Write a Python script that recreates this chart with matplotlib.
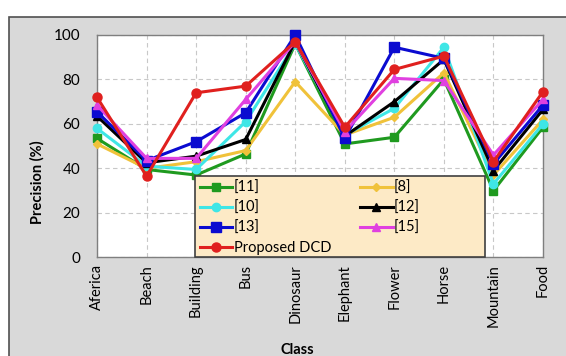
import matplotlib
matplotlib.use("Agg")
import matplotlib.pyplot as plt
from matplotlib.patches import Rectangle

plt.rcParams['font.family'] = ['Lato', 'DejaVu Sans']

classes = ["Aferica", "Beach", "Building", "Bus", "Dinosaur",
           "Elephant", "Flower", "Horse", "Mountain", "Food"]

ref11 = [53.5, 39.5, 37.0, 46.5, 96.0, 51.0, 54.0, 80.0, 30.0, 58.5]
ref8 = [51.0, 40.0, 43.0, 48.0, 79.0, 55.0, 63.0, 83.0, 37.0, 62.0]
ref10 = [58.0, 41.0, 39.5, 61.0, 96.0, 55.0, 67.0, 94.5, 33.0, 60.0]
ref12 = [63.5, 42.5, 45.5, 53.0, 97.0, 54.5, 70.0, 89.0, 39.0, 66.5]
ref13 = [65.5, 43.5, 52.0, 65.0, 100.0, 53.5, 94.5, 89.5, 42.0, 68.5]
ref15 = [68.5, 44.5, 44.5, 71.0, 97.0, 56.5, 80.5, 79.5, 46.0, 71.0]
dcd = [72.0, 36.5, 74.0, 77.0, 97.0, 58.5, 84.5, 90.5, 43.0, 74.5]

y_ticks = [0, 20, 40, 60, 80, 100]

W, H = 566, 356
fig = plt.figure(figsize=(W / 100, H / 100), dpi=100)
fig.patch.set_facecolor("white")

# grey panel behind the chart
panel = Rectangle((9 / W, -0.01), 1.0, 1 - 17 / H + 0.01,
                  transform=fig.transFigure, facecolor="#d9d9d9",
                  edgecolor="#505050", linewidth=1.2)
panel.set_zorder(-10)
fig.add_artist(panel)

ax = fig.add_axes([97 / W, 1 - 257.3 / H, 446 / W, 222.3 / H])
ax.set_zorder(1)
ax.set_facecolor("white")
x = list(range(len(classes)))

series = [
    (ref11, "[11]", "#1f9a1f", "s", 5.5),
    (ref8, "[8]", "#f0c23a", "D", 4.0),
    (ref10, "[10]", "#3fe6e6", "o", 6.0),
    (ref12, "[12]", "black", "^", 6.0),
    (ref13, "[13]", "#0b0bd0", "s", 6.5),
    (ref15, "[15]", "#e040e0", "^", 6.0),
    (dcd, "Proposed DCD", "#e0201e", "o", 6.5),
]
handles = {}
for vals, lab, col, mk, ms in series:
    h, = ax.plot(x, vals, color=col, marker=mk, markersize=ms, linewidth=2.2,
                 label=lab, clip_on=False, zorder=3)
    handles[lab] = h

ax.set_xlim(0, len(classes) - 1)
ax.set_ylim(0, 100)
ax.set_yticks(y_ticks)
ax.set_xticks(x)
ax.set_xticklabels(classes, rotation=90, fontsize=10.5)
ax.tick_params(axis="y", length=0, pad=12, labelsize=11)
ax.tick_params(axis="x", length=0, pad=5)
ax.grid(True, color="#c8c8c8", linestyle=(0, (4, 3)), linewidth=0.8)
ax.set_axisbelow(True)
for s in ax.spines.values():
    s.set_color("#7f7f7f")
    s.set_linewidth(1.0)

ax.set_ylabel("Precision (%)", fontsize=10.5, fontweight="bold")
ax.yaxis.set_label_coords(-0.118, 0.34)
ax.set_xlabel("Class", fontsize=10.5, fontweight="bold")
ax.xaxis.set_label_coords(0.45, -0.385)

# legend box: drawn as its own patch so it can be wider than the entries
box_x0, box_y0, box_w, box_h = 0.22, 0.0, 0.65, 0.366
legend_box = Rectangle((box_x0, box_y0), box_w, box_h, transform=ax.transAxes,
                       facecolor="#fdeac6", edgecolor="#404040",
                       linewidth=1.2, clip_on=False, zorder=4)
ax.add_patch(legend_box)

order = ["[11]", "[10]", "[13]", "Proposed DCD", "[8]", "[12]", "[15]"]
leg = ax.legend([handles[k] for k in order], order, ncol=2,
                loc="upper left", bbox_to_anchor=(box_x0, box_y0 + box_h),
                fontsize=10.5, handlelength=2.2,
                handletextpad=0.1, labelspacing=0.4, borderpad=0.35,
                columnspacing=2.0, frameon=False, borderaxespad=0.0)
leg.set_zorder(5)

fig.savefig("out.png", dpi=100)
